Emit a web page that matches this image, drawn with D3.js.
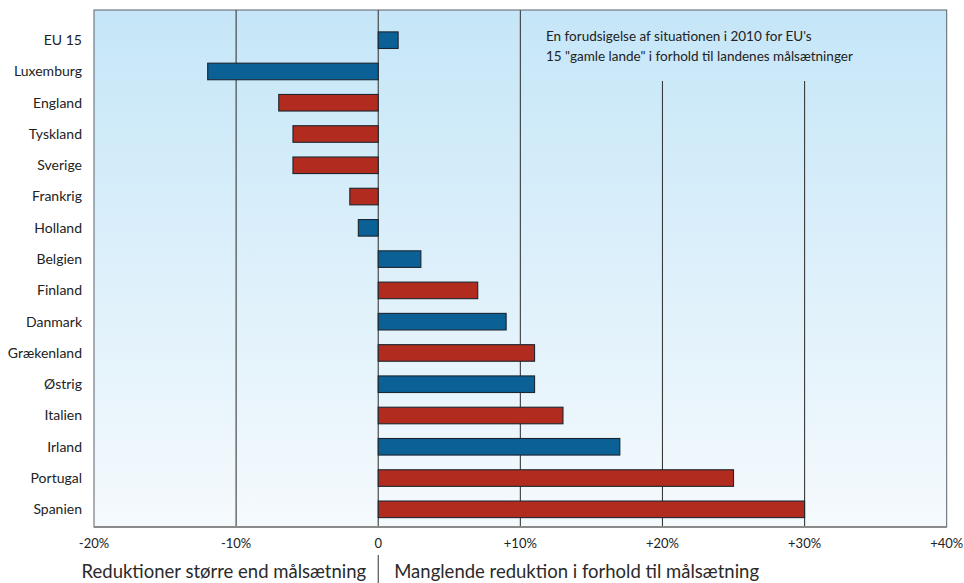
<!DOCTYPE html>
<html><head><meta charset="utf-8">
<script src="https://cdn.jsdelivr.net/npm/d3@7"></script>
<style>body{margin:0;background:#fff}svg{display:block}text{font-family:Lato,"Open Sans",sans-serif}</style>
</head><body><svg id="c" width="964" height="583"></svg>
<script>
const countries = ["EU 15","Luxemburg","England","Tyskland","Sverige","Frankrig","Holland","Belgien","Finland","Danmark","Grækenland","Østrig","Italien","Irland","Portugal","Spanien"];
const values = [1.4,-12,-7,-6,-6,-2,-1.4,3,7,9,11,11,13,17,25,30];
const groups = ["b","b","r","r","r","r","b","b","r","b","r","b","r","b","r","r"];
const tickValues = [-20,-10,0,10,20,30,40];
const tickLabels = ["-20%","-10%","0","+10%","+20%","+30%","+40%"];
const noteLines = ["En forudsigelse af situationen i 2010 for EU's","15 \"gamle lande\" i forhold til landenes målsætninger"];
const footLeft = "Reduktioner større end målsætning";
const footRight = "Manglende reduktion i forhold til målsætning";

const svg = d3.select("#c");
const L=94, R=946.7, T=10, B=527;
const x = d3.scaleLinear().domain([-20,40]).range([L,R]);
const y = d3.scaleBand().domain(countries).range([T,B]).paddingInner(0.47).paddingOuter(0.5).align(0.7);
const color = d3.scaleOrdinal().domain(["b","r"]).range(["#0b6096","#b22b1f"]);

const defs = svg.append("defs");
const g = defs.append("linearGradient").attr("id","bg").attr("x1",0).attr("y1",0).attr("x2",0).attr("y2",1);
g.append("stop").attr("offset","0%").attr("stop-color","#c5e6f8");
g.append("stop").attr("offset","100%").attr("stop-color","#f5fafd");

svg.append("rect").attr("x",L).attr("y",T).attr("width",R-L).attr("height",B-T).attr("fill","url(#bg)");

// gridlines
const grid = [-10,0,10,20,30];
svg.selectAll("line.grid").data(grid).join("line")
  .attr("x1",d=>x(d)).attr("x2",d=>x(d))
  .attr("y1",d=>d>=20?81:T).attr("y2",B)
  .attr("stroke","#3a3a3a").attr("stroke-width",1.1);

// bars
svg.selectAll("rect.bar").data(countries).join("rect")
  .attr("x",(d,i)=>x(Math.min(0,values[i])))
  .attr("y",d=>y(d))
  .attr("width",(d,i)=>Math.abs(x(values[i])-x(0)))
  .attr("height",y.bandwidth())
  .attr("fill",(d,i)=>color(groups[i]))
  .attr("stroke","#1b2630").attr("stroke-width",1.1);

// frame
svg.append("rect").attr("x",L).attr("y",T).attr("width",R-L).attr("height",B-T)
  .attr("fill","none").attr("stroke","#5a6168").attr("stroke-width",1);
svg.append("line").attr("x1",L).attr("x2",R).attr("y1",B).attr("y2",B).attr("stroke","#8a8a8a").attr("stroke-width",2);

// category labels
svg.selectAll("text.cat").data(countries).join("text")
  .attr("x",82).attr("y",d=>y(d)+y.bandwidth()/2).attr("dy","0.35em")
  .attr("text-anchor","end").attr("font-size",14).attr("fill","#222").text(d=>d);

// x tick labels
svg.selectAll("text.tick").data(tickValues).join("text")
  .attr("x",d=>x(d)).attr("y",548).attr("text-anchor","middle")
  .attr("font-size",13).attr("fill","#222").text((d,i)=>tickLabels[i]);

// note
svg.selectAll("text.note").data(noteLines).join("text")
  .attr("x",546).attr("y",(d,i)=>41+i*20).attr("font-size",13.5).attr("fill","#222").text(d=>d);

// footer
svg.append("text").attr("x",x(0)-12).attr("y",578).attr("text-anchor","end").attr("font-size",18.5).attr("fill","#2a2a2a").text(footLeft);
svg.append("text").attr("x",x(0)+16).attr("y",578).attr("text-anchor","start").attr("font-size",18.5).attr("fill","#2a2a2a").text(footRight);
svg.append("line").attr("x1",x(0)).attr("x2",x(0)).attr("y1",555).attr("y2",583).attr("stroke","#333").attr("stroke-width",1);
</script></body></html>
